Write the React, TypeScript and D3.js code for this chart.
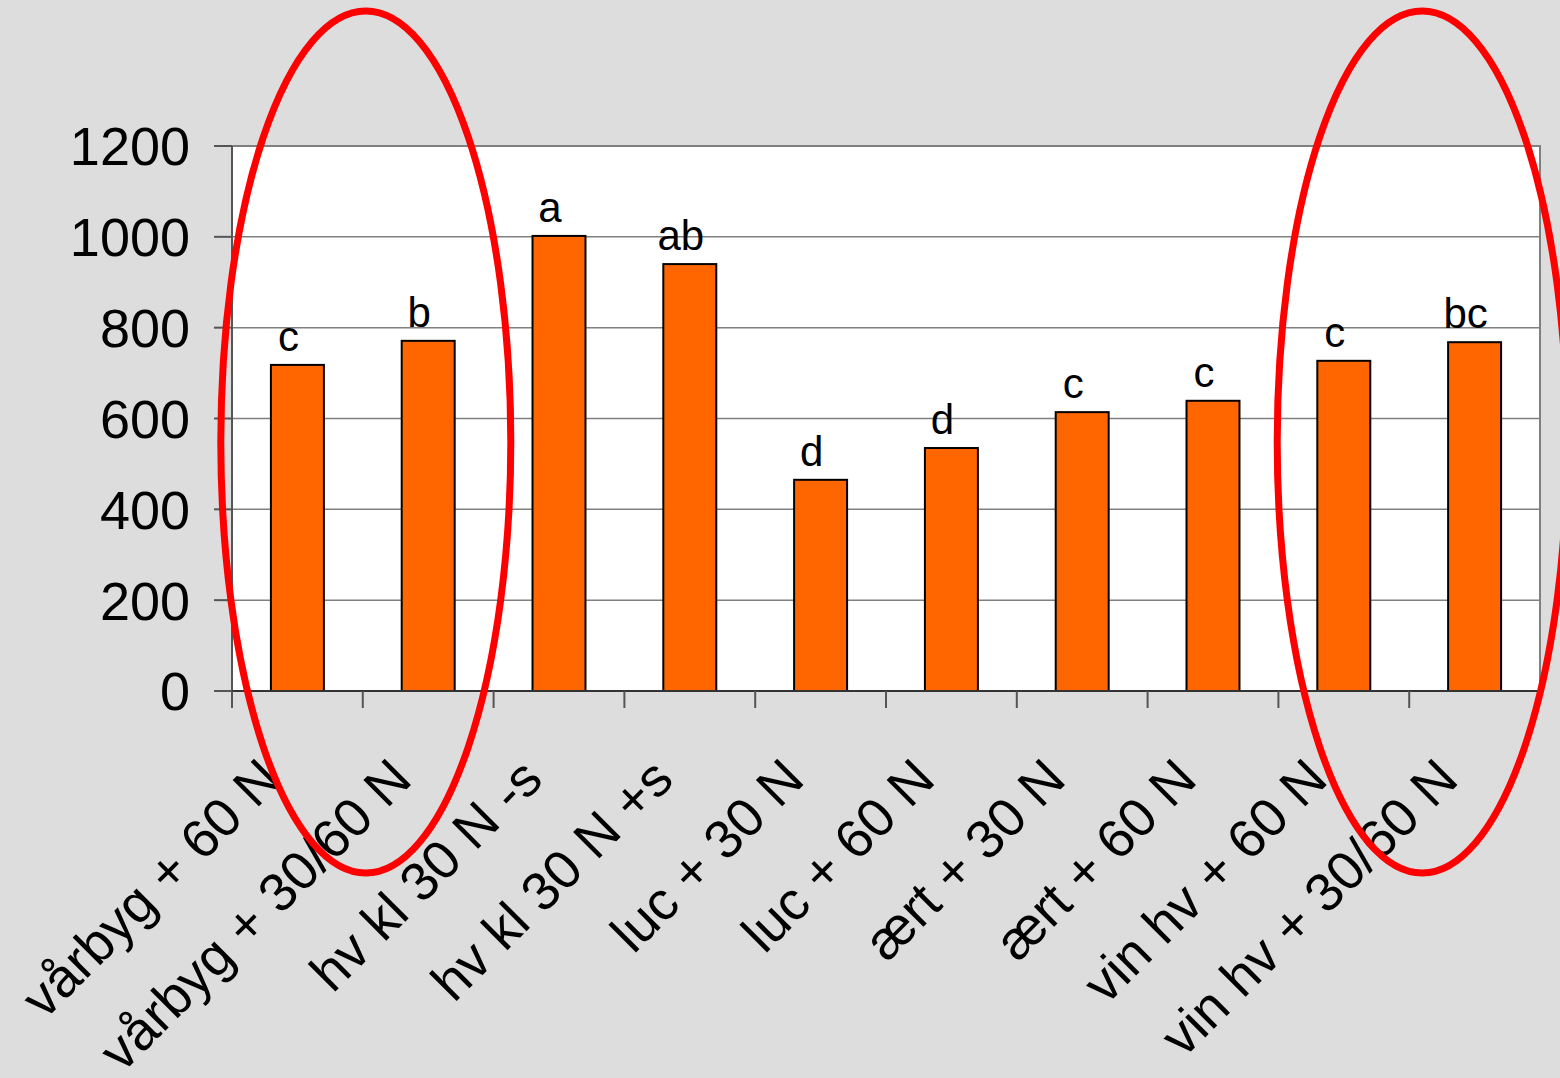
import React from "react";
import * as d3 from "d3";

const categories = [
  "vårbyg + 60 N",
  "vårbyg + 30/60 N",
  "hv kl 30 N -s",
  "hv kl 30 N +s",
  "luc + 30 N",
  "luc + 60 N",
  "ært + 30 N",
  "ært + 60 N",
  "vin hv + 60 N",
  "vin hv + 30/60 N",
];
const values = [718, 771, 1002, 940, 465, 535, 614, 639, 727, 768];
const letters = ["c", "b", "a", "ab", "d", "d", "c", "c", "c", "bc"];
const yTicks = [0, 200, 400, 600, 800, 1000, 1200];
// categories whose right band edge the highlight ellipses are centred on
const highlighted = ["vårbyg + 30/60 N", "vin hv + 30/60 N"];

const W = 1560;
const H = 1078;
const M = { left: 232, right: 1540, top: 146, bottom: 691 };
const FONT = "'Liberation Sans', Arial, Helvetica, sans-serif";
const ELLIPSE_SHIFT = [3, 13];

export default function App() {
  const x = d3
    .scaleBand<string>()
    .domain(categories)
    .range([M.left, M.right])
    .paddingInner(0)
    .paddingOuter(0);
  const y = d3.scaleLinear().domain([0, 1200]).range([M.bottom, M.top]);
  const bw = x.bandwidth() * 0.405;

  return (
    <svg
      width={W}
      height={H}
      style={{ position: "absolute", left: 0, top: 0, display: "block" }}
      fontFamily={FONT}
    >
      <rect x={0} y={0} width={W} height={H} fill="#dddddd" />
      <rect
        x={M.left}
        y={M.top}
        width={M.right - M.left}
        height={M.bottom - M.top}
        fill="#ffffff"
        stroke="#808080"
        strokeWidth={2}
      />
      {yTicks.slice(1, -1).map((t) => (
        <line key={"g" + t} x1={M.left} x2={M.right} y1={y(t)} y2={y(t)} stroke="#808080" strokeWidth={1.5} />
      ))}
      {/* y axis */}
      <line x1={M.left} x2={M.left} y1={M.top} y2={M.bottom} stroke="#555" strokeWidth={2} />
      {yTicks.map((t) => (
        <g key={"y" + t}>
          <line x1={M.left - 18} x2={M.left} y1={y(t)} y2={y(t)} stroke="#555" strokeWidth={2} />
          <text x={190} y={y(t)} dy="0.36em" textAnchor="end" fontSize={54} fill="#000">
            {t}
          </text>
        </g>
      ))}
      {/* bars */}
      {categories.map((c, i) => {
        const cx = (x(c) as number) + x.bandwidth() / 2;
        return (
          <g key={"b" + i}>
            <rect
              x={cx - bw / 2}
              y={y(values[i])}
              width={bw}
              height={y(0) - y(values[i])}
              fill="#ff6600"
              stroke="#000"
              strokeWidth={2}
            />
            <text x={cx - 9} y={y(values[i]) - 14} textAnchor="middle" fontSize={42} fill="#000">
              {letters[i]}
            </text>
          </g>
        );
      })}
      {/* x axis */}
      <line x1={M.left} x2={M.right} y1={M.bottom} y2={M.bottom} stroke="#333" strokeWidth={2} />
      {categories.map((c, i) => (
        <line
          key={"xt" + i}
          x1={x(c) as number}
          x2={x(c) as number}
          y1={M.bottom}
          y2={M.bottom + 17}
          stroke="#555"
          strokeWidth={2}
        />
      ))}
      {categories.map((c, i) => {
        const cx = (x(c) as number) + x.bandwidth() / 2;
        return (
          <text
            key={"xl" + i}
            transform={`translate(${cx - 14},${782}) rotate(-45)`}
            textAnchor="end"
            fontSize={54}
            fill="#000"
          >
            {c}
          </text>
        );
      })}
      {/* highlight ellipses */}
      {highlighted.map((c, k) => {
        const cx = (x(c) as number) + ELLIPSE_SHIFT[k];
        return (
          <ellipse
            key={"e" + k}
            cx={cx}
            cy={442}
            rx={145}
            ry={431}
            fill="none"
            stroke="#ff0000"
            strokeWidth={7}
          />
        );
      })}
    </svg>
  );
}
